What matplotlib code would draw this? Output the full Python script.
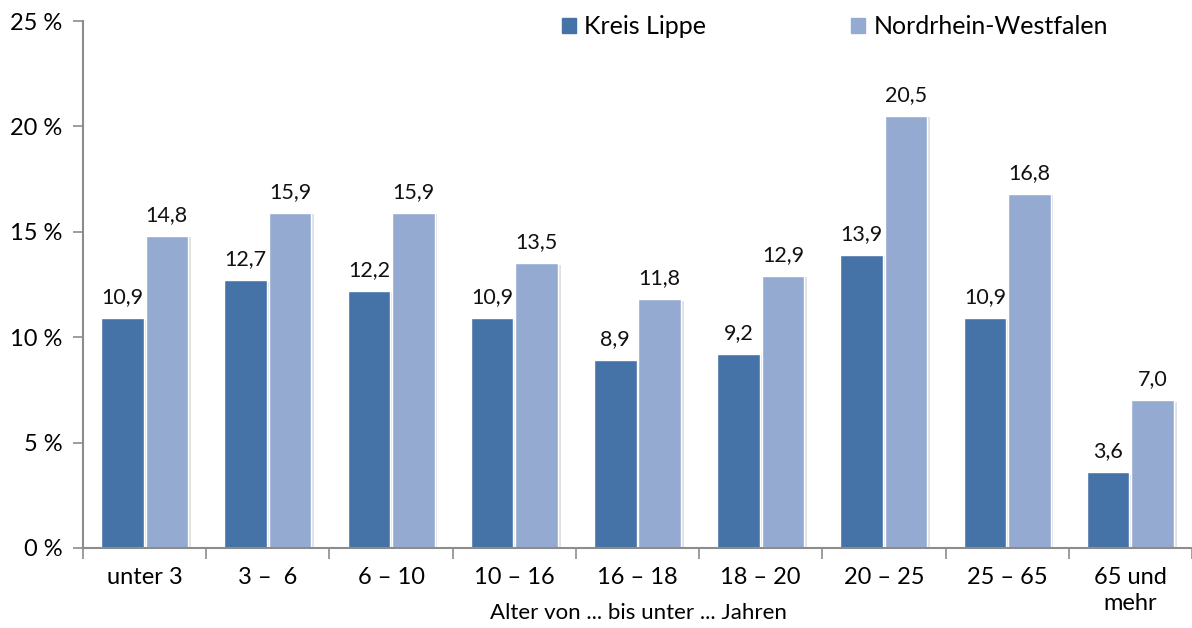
import numpy as np
import matplotlib
matplotlib.use('Agg')
import matplotlib.pyplot as plt
import matplotlib.patheffects as pe
from matplotlib.patches import Patch

plt.rcParams['font.family'] = ['Lato', 'DejaVu Sans']

categories = ['unter 3', '3 –  6', '6 – 10', '10 – 16', '16 – 18', '18 – 20',
              '20 – 25', '25 – 65', '65 und\nmehr']
lippe = [10.9, 12.7, 12.2, 10.9, 8.9, 9.2, 13.9, 10.9, 3.6]
nrw = [14.8, 15.9, 15.9, 13.5, 11.8, 12.9, 20.5, 16.8, 7.0]
series_names = ['Kreis Lippe', 'Nordrhein-Westfalen']
yticks = [0, 5, 10, 15, 20, 25]

c_dark = '#4573A7'
c_light = '#95AAD1'
axis_col = '#8C8C8C'

fig = plt.figure(figsize=(11.92, 6.28), dpi=100)
ax = fig.add_axes([83/1192, 80/628, 1109/1192, 527/628])

x = np.arange(len(categories))
w = 0.345
shadow = [pe.SimplePatchShadow(offset=(2, -1), shadow_rgbFace='#000000', alpha=0.12), pe.Normal()]
b1 = ax.bar(x - w/2 - 0.008, lippe, w, color=c_dark, edgecolor='white', linewidth=1, path_effects=shadow)
b2 = ax.bar(x + w/2 + 0.008, nrw, w, color=c_light, edgecolor='white', linewidth=1, path_effects=shadow)

for bars, vals in ((b1, lippe), (b2, nrw)):
    for r, v in zip(bars, vals):
        ax.annotate(f'{v:.1f}'.replace('.', ','), (r.get_x() + r.get_width()/2, v),
                    xytext=(0, 8), textcoords='offset points', ha='center', va='bottom',
                    fontsize=15.5, color='#111111')

ax.set_xlim(-0.5, len(categories) - 0.5)
ax.set_ylim(0, 25)
ax.set_yticks(yticks)
ax.set_yticklabels([f'{t} %' for t in yticks], fontsize=17)
ax.set_xticks(x)
ax.set_xticklabels(categories, fontsize=17, linespacing=1.25, va='top')
ax.tick_params(axis='x', length=0, pad=14)
ax.set_xticks(np.arange(-0.5, len(categories), 1), minor=True)
ax.tick_params(axis='x', which='minor', length=8, width=1.2, color=axis_col)
ax.tick_params(axis='y', length=7, width=1.2, color=axis_col, pad=8)

for s in ['top', 'right']:
    ax.spines[s].set_visible(False)
for s in ['left', 'bottom']:
    ax.spines[s].set_color(axis_col)
    ax.spines[s].set_linewidth(1.5)

fig.text(638/1192, 1 - 613/628, 'Alter von ... bis unter ... Jahren', fontsize=16,
         ha='center', va='center')

handles = [Patch(color=c_dark), Patch(color=c_light)]
fig.legend(handles, series_names, loc='center', bbox_to_anchor=(835/1192, 1 - 27/628), ncol=2,
           frameon=False, fontsize=18, handlelength=0.55, handleheight=0.55,
           handletextpad=0.35, columnspacing=5.8)

fig.savefig('out.png', dpi=100)
